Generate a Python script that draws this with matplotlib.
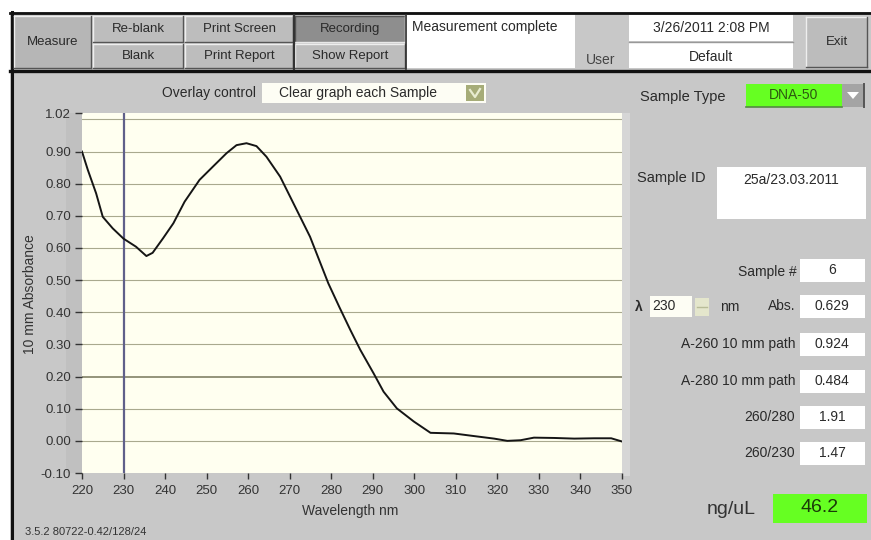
import matplotlib
matplotlib.use("Agg")
import matplotlib.pyplot as plt
from matplotlib.patches import Rectangle, Polygon
from matplotlib.lines import Line2D

# ---------------- data ----------------
wavelength = [220, 221.4, 223.4, 225, 227.4, 230, 233, 235.5, 237, 239.5, 242, 244.7,
              248.3, 251.5, 254.8, 257.2, 259.6, 262, 264.4, 267.7, 270.9, 274.9,
              279.3, 282, 284.6, 287, 290.2, 292.6, 295.8, 299.9, 303.9, 309.5, 314.3,
              319.2, 322.4, 325.6, 328.8, 333.7, 338.5, 343.3, 347.4, 350]
absorbance = [0.90, 0.843, 0.77, 0.697, 0.661, 0.629, 0.604, 0.575, 0.585, 0.63, 0.677, 0.744,
              0.812, 0.853, 0.895, 0.92, 0.926, 0.917, 0.884, 0.822, 0.739, 0.635,
              0.49, 0.415, 0.345, 0.283, 0.21, 0.153, 0.101, 0.06, 0.025, 0.023, 0.015,
              0.007, 0.0, 0.002, 0.01, 0.009, 0.007, 0.008, 0.008, -0.002]
cursor_wl = 230
x_ticks = [220, 230, 240, 250, 260, 270, 280, 290, 300, 310, 320, 330, 340, 350]
y_ticks = [-0.10, 0.00, 0.10, 0.20, 0.30, 0.40, 0.50, 0.60, 0.70, 0.80, 0.90, 1.02]
grid_levels = [0.0, 0.1, 0.2, 0.3, 0.4, 0.5, 0.6, 0.7, 0.8, 0.9, 1.0]

top_buttons = [("Re-blank", "Blank"), ("Print Screen", "Print Report"), ("Recording", "Show Report")]
status_text = "Measurement complete"
date_text = "3/26/2011 2:08 PM"
user_text = "Default"
overlay_text = "Clear graph each Sample"
sample_type = "DNA-50"
sample_id = "25a/23.03.2011"
sample_num = "6"
lambda_val = "230"
result_labels = ["Abs.", "A-260 10 mm path", "A-280 10 mm path", "260/280", "260/230"]
result_values = ["0.629", "0.924", "0.484", "1.91", "1.47"]
conc_value = "46.2"
version_text = "3.5.2 80722-0.42/128/24"

# ---------------- figure ----------------
W, H = 871, 540
plt.rcParams['font.family'] = ['Liberation Sans', 'DejaVu Sans']
fig = plt.figure(figsize=(W / 100, H / 100), dpi=100, facecolor='white')

TXT = '#2a2a2a'
BG = '#c8c8c8'


def rect(x0, y0, x1, y1, fc, ec='none', lw=0.0, z=1):
    fig.add_artist(Rectangle((x0 / W, 1 - y1 / H), (x1 - x0) / W, (y1 - y0) / H,
                             transform=fig.transFigure, facecolor=fc, edgecolor=ec,
                             linewidth=lw, zorder=z))


def line(x0, y0, x1, y1, c, lw, z=3):
    fig.add_artist(Line2D([x0 / W, x1 / W], [1 - y0 / H, 1 - y1 / H],
                          transform=fig.transFigure, color=c, linewidth=lw, zorder=z))


def text(x, y, s, size=10, ha='left', va='center', color=TXT, **kw):
    fig.text(x / W, 1 - y / H, s, fontsize=size, ha=ha, va=va, color=color, zorder=5, **kw)


def button(x0, y0, x1, y1, fc, label, size=9.5, pressed=False):
    rect(x0, y0, x1, y1, fc, z=2)
    hi, lo = ('#555555', '#e8e8e8') if pressed else ('#eeeeee', '#555555')
    line(x0, y0, x1, y0, hi, 1.0)
    line(x0, y0, x0, y1, hi, 1.0)
    line(x0, y1, x1, y1, lo, 1.0)
    line(x1, y0, x1, y1, lo, 1.0)
    text((x0 + x1) / 2, (y0 + y1) / 2, label, size=size, ha='center')


# background panel
rect(10, 12, W, H, BG, z=-3)
line(10, 13, W, 13, '#111111', 2.0)
line(11.5, 12, 11.5, H, '#111111', 2.2)
line(10, 70.5, W, 70.5, '#111111', 2.4)

# toolbar
button(14, 16, 91, 68, '#b6b6b6', "Measure")
bx = [(93, 183), (185, 293), (295, 405)]
for (x0, x1), (t1, t2) in zip(bx, top_buttons):
    pressed = (t1 == "Recording")
    button(x0, 16, x1, 42, '#8e8e8e' if pressed else '#bdbdbd', t1, pressed=pressed)
    button(x0, 44, x1, 68, '#bdbdbd', t2)
line(294, 15, 294, 69, '#333333', 1.6)
line(406, 15, 406, 69, '#333333', 1.2)

rect(407, 15, 575, 68, 'white', z=2)
text(412, 27, status_text, size=10)
text(586, 60, "User", size=10, color='#444444')
rect(629, 15, 793, 41, 'white', z=2)
rect(629, 43, 793, 68, 'white', z=2)
line(629, 42, 793, 42, '#999999', 1.0)
text(711, 28, date_text, size=10, ha='center')
text(711, 57, user_text, size=10, ha='center')
button(806, 17, 867, 67, '#bcbcbc', "Exit")

# overlay control
text(256, 93, "Overlay control", size=10, ha='right')
rect(262, 83, 486, 103, '#fdfdf4', z=2)
text(279, 93, overlay_text, size=10)
rect(466, 85, 484, 101, '#a6ac78', z=3)
fig.add_artist(Line2D([470 / W, 475 / W, 480 / W], [1 - 90 / H, 1 - 97 / H, 1 - 89 / H],
                      transform=fig.transFigure, color='#e8ecd0', lw=1.6, zorder=4))

# ---------------- chart ----------------
rect(66, 113, 82, 473, '#c0c0c0', z=-2)
rect(622, 113, 630, 476, '#d6d6d6', z=-2)
ax = fig.add_axes([82 / W, 1 - 473 / H, (622 - 82) / W, (473 - 113) / H])
ax.set_zorder(1)
ax.set_facecolor('#fffff0')
ax.set_xlim(220, 350)
ax.set_ylim(-0.10, 1.02)
for g in grid_levels:
    ax.axhline(g, color='#77775a' if abs(g - 0.2) < 1e-9 else '#a9a98e',
               lw=1.1 if abs(g - 0.2) < 1e-9 else 0.8, zorder=1)
ax.axvline(cursor_wl, color='#60608a', lw=1.6, zorder=2)
ax.plot(wavelength, absorbance, color='#151515', lw=1.4, zorder=3)
ax.set_xticks(x_ticks)
ax.set_yticks(y_ticks)
ax.set_yticklabels([f"{v:.2f}" for v in y_ticks])
for s in ax.spines.values():
    s.set_visible(False)
ax.tick_params(axis='both', direction='out', width=1.0, color='#333333',
               labelcolor='#333333', labelsize=9.5)
ax.tick_params(axis='x', length=4, pad=5)
ax.tick_params(axis='y', length=5, pad=3)
text(30, 294, "10 mm Absorbance", size=10, ha='center', rotation=90, color='#333333')
text(350, 511, "Wavelength nm", size=10, ha='center', color='#333333')
text(25, 532, version_text, size=8, color='#333333')

# ---------------- right panel ----------------
text(640, 97, "Sample Type", size=10.5)
rect(746, 84, 842, 107, '#66ff22', z=2)
line(746, 107, 842, 107, '#558844', 1.2)
text(794, 95, sample_type, size=10, ha='center', color='#2d5a10')
rect(842, 84, 864, 107, '#a4a4a4', z=2)
line(864, 84, 864, 107, '#555555', 1.4)
fig.add_artist(Polygon([(847 / W, 1 - 92 / H), (859 / W, 1 - 92 / H), (853 / W, 1 - 99 / H)],
                       closed=True, transform=fig.transFigure, facecolor='white',
                       edgecolor='none', zorder=4))

text(637, 178, "Sample ID", size=10.5)
rect(717, 167, 866, 219, 'white', z=2)
text(791, 180, sample_id, size=10, ha='center')

text(797, 272, "Sample #", size=10, ha='right')
rect(800, 259, 865, 282, 'white', z=2)
text(832, 270, sample_num, size=10, ha='center')

text(635, 307, "λ", size=10, weight='bold')
rect(650, 296, 692, 317, '#fdfdf4', z=2)
text(664, 306, lambda_val, size=10, ha='center')
rect(695, 298, 709, 316, '#e4e6cc', z=2)
line(697, 307, 707, 307, '#b8bc98', 1.0)
text(720, 307, "nm", size=10)

row_y = [306, 344, 381, 417, 453]
for yy, lab, val in zip(row_y, result_labels, result_values):
    text(795, yy, lab, size=10, ha='right')
    rect(800, yy - 11, 865, yy + 12, 'white', z=2)
    text(832, yy, val, size=10, ha='center')

text(731, 509, "ng/uL", size=14, ha='center', color='#333333')
rect(773, 494, 867, 523, '#66ff22', z=2)
text(820, 508, conc_value, size=14, ha='center', color='#1a3a08')

fig.savefig("out.png", dpi=100, facecolor=fig.get_facecolor())
